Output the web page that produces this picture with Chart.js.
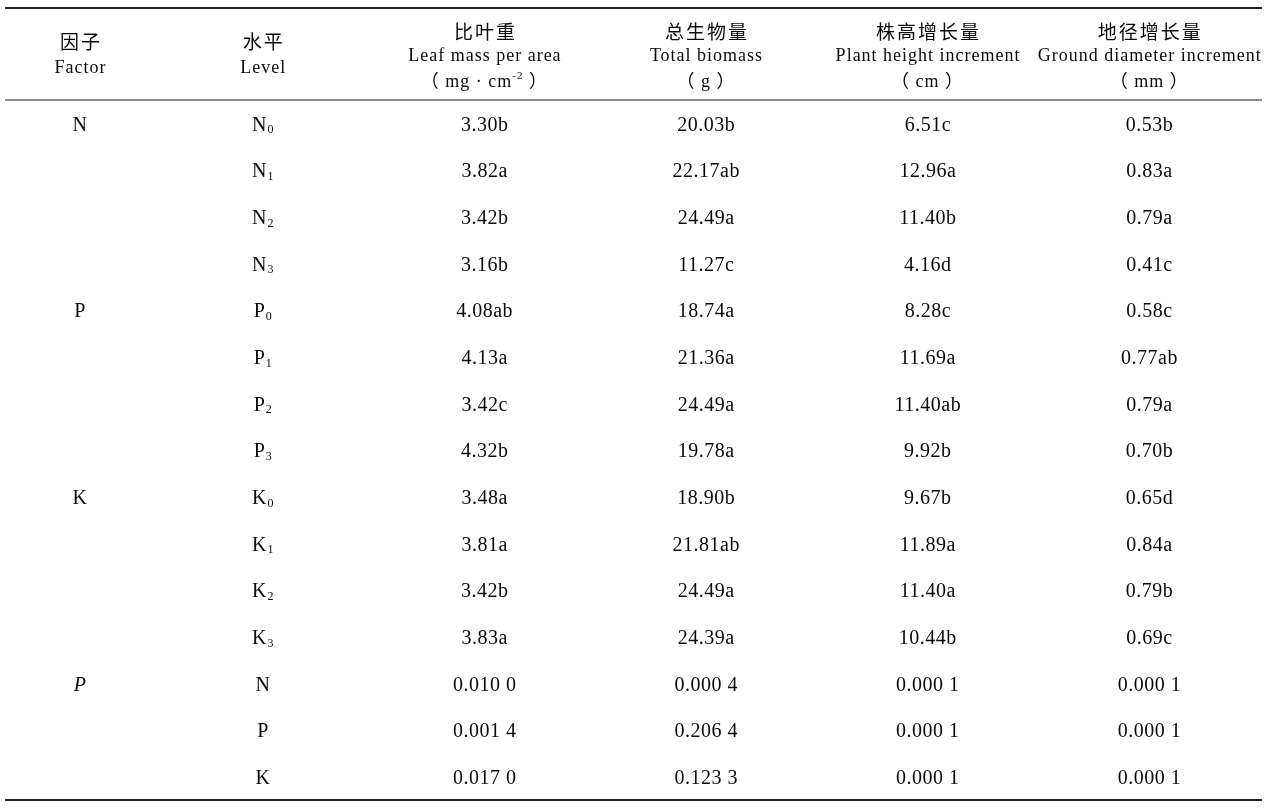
<!DOCTYPE html>
<html>
<head>
<meta charset="utf-8">
<script src="https://cdn.jsdelivr.net/npm/chart.js@4/dist/chart.umd.min.js"></script>
<style>
  html, body { margin: 0; padding: 0; background: #fff; }
  canvas { display: block; }
</style>
</head>
<body>
<canvas id="table" width="1269" height="812"></canvas>
<script>
// column headers
const columnKeys = ["level", "lma", "biomass", "height", "diameter"];
const headerZh = ["水平", "比叶重", "总生物量", "株高增长量", "地径增长量"];
const headerEn = ["Level", "Leaf mass per area", "Total biomass", "Plant height increment", "Ground diameter increment"];
const headerUnit = ["", "mg · cm", "g", "cm", "mm"];
const headerUnitSup = ["", "-2", "", "", ""];
const factorHeaderZh = "因子";
const factorHeaderEn = "Factor";

// rows
const factorLabels = ["N", "", "", "", "P", "", "", "", "K", "", "", "", "P", "", ""];
const levelNames = ["N", "N", "N", "N", "P", "P", "P", "P", "K", "K", "K", "K", "N", "P", "K"];
const levelSubs = ["0", "1", "2", "3", "0", "1", "2", "3", "0", "1", "2", "3", "", "", ""];

// means with significance letters
const lma = [3.30, 3.82, 3.42, 3.16, 4.08, 4.13, 3.42, 4.32, 3.48, 3.81, 3.42, 3.83];
const lmaSig = ["b", "a", "b", "b", "ab", "a", "c", "b", "a", "a", "b", "a"];
const biomass = [20.03, 22.17, 24.49, 11.27, 18.74, 21.36, 24.49, 19.78, 18.90, 21.81, 24.49, 24.39];
const biomassSig = ["b", "ab", "a", "c", "a", "a", "a", "a", "b", "ab", "a", "a"];
const heightInc = [6.51, 12.96, 11.40, 4.16, 8.28, 11.69, 11.40, 9.92, 9.67, 11.89, 11.40, 10.44];
const heightSig = ["c", "a", "b", "d", "c", "a", "ab", "b", "b", "a", "a", "b"];
const diameterInc = [0.53, 0.83, 0.79, 0.41, 0.58, 0.77, 0.79, 0.70, 0.65, 0.84, 0.79, 0.69];
const diameterSig = ["b", "a", "a", "c", "c", "ab", "a", "b", "d", "a", "b", "c"];

// P values (N, P, K)
const pLma = [0.0100, 0.0014, 0.0170];
const pBiomass = [0.0004, 0.2064, 0.1233];
const pHeight = [0.0001, 0.0001, 0.0001];
const pDiameter = [0.0001, 0.0001, 0.0001];

const SERIF = '"Liberation Serif", "Noto Sans CJK SC", serif';
const INK = "#0a0a0a";

const rowKeys = levelNames.map((n, i) => n + levelSubs[i]);

function fmtP(v) {
  const s = v.toFixed(4);
  return s.slice(0, -1) + " " + s.slice(-1);
}

function columnData(key, means, sig, pvals) {
  const out = [];
  means.forEach((v, i) => out.push({ x: key, y: rowKeys[i], text: v.toFixed(2) + sig[i] }));
  pvals.forEach((v, i) => out.push({ x: key, y: rowKeys[means.length + i], text: fmtP(v) }));
  return out;
}

const levelData = rowKeys.map((k, i) => ({ x: "level", y: k, base: levelNames[i], sub: levelSubs[i] }));

function drawSpaced(ctx, text, x, y, spacing) {
  ctx.letterSpacing = spacing + "px";
  ctx.fillText(text, x + spacing / 2, y);
}

const tablePlugin = {
  id: "tableText",
  afterDraw(chart) {
    const { ctx, chartArea, scales } = chart;
    const x = scales.x;
    const W = chart.width;
    const headRule = chartArea.top - 2;
    const footRule = chartArea.bottom - 2;
    ctx.save();

    // rules
    ctx.strokeStyle = "#222";
    ctx.lineWidth = 2;
    ctx.beginPath();
    ctx.moveTo(5, 8); ctx.lineTo(W - 7, 8);
    ctx.moveTo(5, footRule); ctx.lineTo(W - 7, footRule);
    ctx.stroke();
    ctx.strokeStyle = "#666";
    ctx.lineWidth = 1.4;
    ctx.beginPath();
    ctx.moveTo(5, headRule); ctx.lineTo(W - 7, headRule);
    ctx.stroke();

    // header
    ctx.fillStyle = INK;
    ctx.textAlign = "center";
    ctx.textBaseline = "middle";
    const mid = (8 + headRule) / 2 + 2.5;
    const lh = 24;
    const factorX = chartArea.left - 72;
    const zhFont = "19px " + SERIF;
    const enFont = "18px " + SERIF;

    ctx.font = zhFont;
    drawSpaced(ctx, factorHeaderZh, factorX, mid - lh / 2, 2);
    ctx.font = enFont;
    drawSpaced(ctx, factorHeaderEn, factorX, mid + lh / 2, 1);

    columnKeys.forEach((key, i) => {
      const cx = x.getPixelForValue(i);
      const three = !!headerUnit[i];
      const yZh = three ? mid - lh + 2 : mid - lh / 2;
      const yEn = three ? mid : mid + lh / 2;
      ctx.font = zhFont;
      drawSpaced(ctx, headerZh[i], cx, yZh, 2);
      ctx.font = enFont;
      drawSpaced(ctx, headerEn[i], cx, yEn, 1);
      if (three) {
        // （ unit<sup> ）
        const yU = mid + lh + 1.5;
        ctx.letterSpacing = "1px";
        ctx.textAlign = "left";
        const open = "（ ", close = " ）";
        const supFont = "11px " + SERIF;
        ctx.font = enFont;
        const wOpen = ctx.measureText(open).width;
        const wUnit = ctx.measureText(headerUnit[i]).width;
        const wClose = ctx.measureText(close).width;
        ctx.font = supFont;
        const wSup = headerUnitSup[i] ? ctx.measureText(headerUnitSup[i]).width : 0;
        let px = cx - (wOpen + wUnit + wSup + wClose) / 2;
        ctx.font = enFont;
        ctx.fillText(open, px, yU); px += wOpen;
        ctx.fillText(headerUnit[i], px, yU); px += wUnit;
        if (wSup) {
          ctx.font = supFont;
          ctx.fillText(headerUnitSup[i], px, yU - 6); px += wSup;
          ctx.font = enFont;
        }
        ctx.fillText(close, px, yU);
        ctx.textAlign = "center";
      }
    });

    // body cells from dataset elements
    const cellFont = "20px " + SERIF;
    const subFont = "12px " + SERIF;
    chart.data.datasets.forEach((ds, d) => {
      const meta = chart.getDatasetMeta(d);
      meta.data.forEach((pt, i) => {
        const item = ds.data[i];
        if (item.base !== undefined) {
          ctx.textAlign = "left";
          ctx.letterSpacing = "0px";
          ctx.font = cellFont;
          const wb = ctx.measureText(item.base).width;
          ctx.font = subFont;
          const ws = item.sub ? ctx.measureText(item.sub).width + 1 : 0;
          const sx = pt.x - (wb + ws) / 2;
          ctx.font = cellFont;
          ctx.fillText(item.base, sx, pt.y);
          if (item.sub) {
            ctx.font = subFont;
            ctx.fillText(item.sub, sx + wb + 1, pt.y + 5);
          }
          ctx.textAlign = "center";
        } else {
          ctx.font = cellFont;
          drawSpaced(ctx, item.text, pt.x, pt.y, 0.5);
        }
      });
    });
    ctx.restore();
  }
};

const blank = { pointRadius: 0, pointHoverRadius: 0, showLine: false };

new Chart(document.getElementById("table").getContext("2d"), {
  type: "scatter",
  data: {
    datasets: [
      { label: "Level", data: levelData, ...blank },
      { label: "Leaf mass per area", data: columnData("lma", lma, lmaSig, pLma), ...blank },
      { label: "Total biomass", data: columnData("biomass", biomass, biomassSig, pBiomass), ...blank },
      { label: "Plant height increment", data: columnData("height", heightInc, heightSig, pHeight), ...blank },
      { label: "Ground diameter increment", data: columnData("diameter", diameterInc, diameterSig, pDiameter), ...blank }
    ]
  },
  options: {
    responsive: false,
    animation: false,
    events: [],
    layout: { padding: { top: 102, right: 9, bottom: 10, left: 0 } },
    plugins: { legend: { display: false }, tooltip: { enabled: false } },
    scales: {
      x: {
        type: "category",
        labels: columnKeys,
        offset: true,
        display: false
      },
      y: {
        type: "category",
        labels: rowKeys,
        offset: true,
        position: "left",
        grid: { display: false, drawTicks: false },
        border: { display: false },
        afterFit(scale) {
          scale.width = 152;
          scale.paddingTop = 0;
          scale.paddingBottom = 0;
        },
        ticks: {
          autoSkip: false,
          crossAlign: "center",
          padding: 65,
          color: INK,
          font: (c) => ({ family: SERIF, size: 20, style: c.index >= lma.length ? "italic" : "normal" }),
          callback: (value, index) => factorLabels[index]
        }
      }
    }
  },
  plugins: [tablePlugin]
});
</script>
</body>
</html>
